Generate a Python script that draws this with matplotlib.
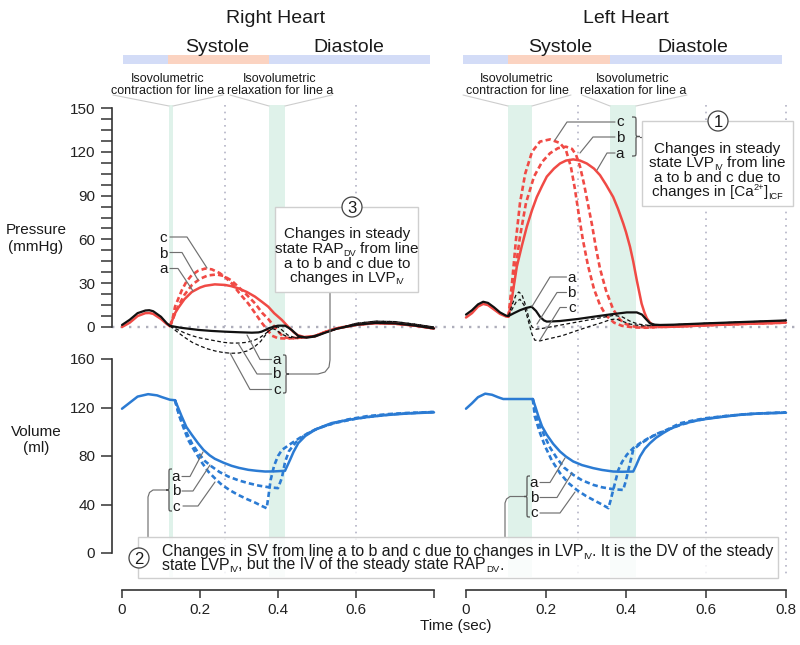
import numpy as np
import matplotlib
matplotlib.use('Agg')
import matplotlib.pyplot as plt
import matplotlib.transforms as mtrans
from matplotlib.patches import Rectangle, Ellipse, PathPatch
from matplotlib.path import Path
from matplotlib.lines import Line2D

plt.rcParams['font.family'] = ['Liberation Sans', 'DejaVu Sans']

# ---------------------------------------------------------------- data
# Right heart (left panel): time (s), pressure (mmHg)
rh_pre_t = [0.0, 0.02, 0.04, 0.06, 0.07, 0.08, 0.10, 0.115, 0.123]
rvp_pre = [0.0, 3.0, 7.5, 9.5, 9.6, 9.0, 5.5, 2.0, 0.5]
rap_pre = [1.4, 5.0, 9.5, 11.3, 11.5, 10.8, 7.0, 2.5, 0.8]

rvp_a_t = [0.123, 0.135, 0.144, 0.16, 0.179, 0.2, 0.213, 0.238, 0.264, 0.28, 0.298, 0.32, 0.341, 0.36, 0.375,
           0.39, 0.41, 0.426, 0.44, 0.45, 0.469, 0.495, 0.52, 0.55, 0.6, 0.65, 0.7, 0.75, 0.8]
rvp_a = [0.5, 9, 13, 19, 24, 27, 28.2, 29.2, 28.8, 28, 26.5, 24, 20.8, 17, 13.9,
         9.5, 4.8, 0.2, -3.5, -5.5, -7, -6.2, -3.5, -1, 1.5, 2.7, 2.3, 1.0, -1.0]
rvp_b_t = [0.123, 0.13, 0.14, 0.16, 0.18, 0.2, 0.22, 0.243, 0.26, 0.28, 0.298, 0.32, 0.341, 0.36, 0.375,
           0.39, 0.40, 0.415, 0.43, 0.45, 0.469, 0.495, 0.52, 0.55, 0.6, 0.65, 0.7, 0.75, 0.8]
rvp_b = [0.5, 5, 12, 22, 29, 33, 35.3, 36, 35, 32, 27.6, 22, 16.2, 9.5, 5.5,
         0.5, -3, -7, -7.7, -7.5, -7, -6.2, -3.5, -1, 1.5, 2.7, 2.3, 1.0, -1.0]
rvp_c_t = [0.123, 0.13, 0.136, 0.153, 0.165, 0.179, 0.195, 0.213, 0.23, 0.25, 0.265, 0.281, 0.3, 0.324, 0.34,
           0.358, 0.37, 0.385, 0.40, 0.42, 0.44, 0.469, 0.495, 0.52, 0.55, 0.6, 0.65, 0.7, 0.75, 0.8]
rvp_c = [0.5, 6, 13.9, 25, 31, 35.6, 38.5, 40, 39.5, 37, 34, 30, 23.5, 16, 10,
         3, -1, -6, -7.7, -7.9, -7.7, -7, -6.2, -3.5, -1, 1.5, 2.7, 2.3, 1.0, -1.0]

rap_a_t = [0.123, 0.15, 0.196, 0.23, 0.264, 0.3, 0.333, 0.35, 0.358, 0.368, 0.376, 0.39, 0.40, 0.418, 0.427,
           0.435, 0.452, 0.473, 0.495, 0.52, 0.55, 0.6, 0.65, 0.7, 0.75, 0.8]
rap_a = [0.8, -0.5, -2, -2.7, -3.2, -3.6, -3.9, -3.7, -3.2, -2, -0.9, 0.3, 0.9, 0.9, -0.5,
         -2, -6.2, -7.3, -6.5, -4, -1.2, 1.5, 2.8, 2.5, 1.0, -1.0]
rap_b_t = [0.123, 0.14, 0.16, 0.18, 0.2, 0.22, 0.24, 0.26, 0.28, 0.30, 0.32, 0.34, 0.355, 0.368, 0.38,
           0.39, 0.40, 0.41, 0.425, 0.44, 0.46, 0.48, 0.5, 0.53, 0.56, 0.6, 0.65, 0.7, 0.75, 0.8]
rap_b = [0.8, -1.5, -4, -6, -7.5, -8.5, -9.5, -10.5, -11, -11, -10.5, -9, -7, -4.5, -2,
         -0.5, 0, -2, -5.5, -7, -7.2, -6.8, -5.5, -3, -0.5, 2.5, 4, 3.7, 2, 0]
rap_c_t = [0.123, 0.14, 0.16, 0.18, 0.2, 0.22, 0.24, 0.26, 0.28, 0.30, 0.32, 0.34, 0.355, 0.365, 0.375,
           0.385, 0.395, 0.41, 0.43, 0.45, 0.47, 0.5, 0.53, 0.56, 0.6, 0.65, 0.7, 0.75, 0.8]
rap_c = [0.8, -3, -7, -10.5, -13, -15, -16.5, -17.5, -18, -17.8, -16.5, -13.5, -10, -6.5, -3,
         -1, -2, -5, -7.2, -7.5, -7.2, -5.5, -3, -0.5, 2.5, 4, 3.7, 2, 0]

# Right heart volume (ml)
rv_pre_t = [0.0, 0.02, 0.04, 0.067, 0.09, 0.102, 0.123, 0.136]
rv_pre = [119, 124, 129, 131, 130, 128.6, 126.4, 126]
rv_a_t = [0.136, 0.145, 0.153, 0.165, 0.179, 0.195, 0.209, 0.225, 0.238, 0.26, 0.281, 0.3, 0.324, 0.345, 0.367,
          0.39, 0.418, 0.431, 0.44, 0.452, 0.47, 0.495, 0.52, 0.538, 0.58, 0.627, 0.68, 0.73, 0.764, 0.8]
rv_a = [126, 119, 112.7, 104, 97.5, 90.5, 85, 80.5, 77.7, 74.5, 71.9, 70.2, 68.6, 67.8, 67.2,
        67.3, 67.8, 76.9, 83.5, 90.6, 96.5, 101.6, 105, 107.2, 109.8, 112, 113.8, 115, 115.5, 116]
rv_b_t = [0.136, 0.145, 0.155, 0.166, 0.18, 0.196, 0.212, 0.23, 0.25, 0.273, 0.3, 0.324, 0.35, 0.375,
          0.40, 0.41, 0.418, 0.428, 0.445, 0.47, 0.5, 0.54, 0.58, 0.627, 0.68, 0.73, 0.8]
rv_b = [126, 115.4, 107, 98.9, 90, 82.4, 76, 71.3, 66.8, 63, 59.8, 57.6, 55.6, 54.3,
        53.5, 62, 75, 84, 91, 97.5, 102.5, 106.8, 110.2, 112.8, 114.5, 115.5, 116.3]
rv_c_t = [0.136, 0.14, 0.148, 0.157, 0.17, 0.187, 0.205, 0.221, 0.24, 0.256, 0.278, 0.298, 0.32, 0.341, 0.357,
          0.371, 0.376, 0.381, 0.39, 0.40, 0.41, 0.435, 0.461, 0.49, 0.52, 0.55, 0.6, 0.65, 0.7, 0.75, 0.8]
rv_c = [126, 121, 112, 104, 93, 83.7, 74.5, 67.2, 61, 56.2, 51.5, 47.9, 44.5, 41.6, 39,
        36.9, 48, 60, 72, 80, 85, 90.6, 96, 101, 104.8, 107.5, 110.8, 113, 114.6, 115.5, 116.3]

# Left heart (right panel): pressure (mmHg)
lh_pre_t = [0.0, 0.015, 0.03, 0.043, 0.055, 0.07, 0.085, 0.1, 0.106]
lap_pre = [8.5, 11.5, 15.5, 17.3, 16.5, 13.5, 10.0, 7.8, 7.5]
lvp_pre = [6.5, 9.5, 14.0, 15.8, 15.0, 12.0, 9.0, 7.2, 7.0]

lvp_a_t = [0.106, 0.115, 0.127, 0.14, 0.152, 0.165, 0.177, 0.19, 0.202, 0.22, 0.235, 0.25, 0.268, 0.285, 0.302,
           0.32, 0.335, 0.35, 0.368, 0.38, 0.393, 0.40, 0.41, 0.418, 0.427, 0.433, 0.439, 0.446, 0.452, 0.46,
           0.468, 0.485, 0.5, 0.55, 0.6, 0.65, 0.7, 0.75, 0.8]
lvp_a = [7, 20, 41.3, 56, 68.7, 80, 89, 96.5, 103, 108.5, 112, 114, 114.8, 114, 112,
         108.5, 104, 97.5, 89, 81, 71, 65, 55, 45, 32, 24, 16, 10, 6, 3,
         1.4, 0.2, 0, 0.6, 1.2, 1.7, 2.2, 2.6, 3.0]
lvp_b_t = [0.106, 0.115, 0.125, 0.135, 0.15, 0.17, 0.19, 0.21, 0.23, 0.25, 0.265, 0.275, 0.285, 0.295, 0.305,
           0.315, 0.325, 0.335, 0.35, 0.368, 0.385, 0.4, 0.42, 0.45, 0.48, 0.5, 0.55, 0.6, 0.65, 0.7, 0.75, 0.8]
lvp_b = [7, 22, 42, 62, 85, 103, 113, 119, 122.5, 123.5, 122, 118, 110, 98, 84,
         70, 54, 40, 25, 12, 5, 2, 0.3, -0.3, 0, 0.2, 0.6, 1.2, 1.7, 2.2, 2.6, 3.0]
lvp_c_t = [0.106, 0.115, 0.125, 0.135, 0.148, 0.165, 0.185, 0.21, 0.235, 0.25, 0.262, 0.272, 0.282, 0.292, 0.305,
           0.32, 0.335, 0.35, 0.37, 0.39, 0.42, 0.45, 0.48, 0.5, 0.55, 0.6, 0.65, 0.7, 0.75, 0.8]
lvp_c = [7, 30, 60, 85, 105, 120, 127, 128.5, 126, 121, 110, 95, 77, 60, 42,
         26, 15, 8, 3, 0.8, -0.3, -0.5, 0, 0.2, 0.6, 1.2, 1.7, 2.2, 2.6, 3.0]

lap_a_t = [0.106, 0.12, 0.135, 0.15, 0.164, 0.175, 0.185, 0.195, 0.202, 0.22, 0.235, 0.28, 0.318, 0.36, 0.402,
           0.427, 0.44, 0.448, 0.46, 0.472, 0.485, 0.52, 0.6, 0.7, 0.8]
lap_a = [7.5, 9.5, 11.5, 13, 13.9, 11, 7, 4.5, 3.7, 3.9, 4.1, 5.5, 7, 8.6, 10,
         10, 8.5, 6, 2.5, 1.6, 1.4, 1.6, 2.5, 3.5, 4.5]
lap_b_t = [0.106, 0.115, 0.125, 0.132, 0.14, 0.15, 0.158, 0.165, 0.175, 0.19, 0.22, 0.26, 0.3, 0.34, 0.37,
           0.39, 0.41, 0.43, 0.46, 0.5, 0.6, 0.7, 0.8]
lap_b = [7.5, 15, 22, 24, 22, 14, 5, 0, -1.5, -1, 0.5, 2.5, 4.5, 6.5, 8,
         7, 4, 2, 1, 1.4, 2.5, 3.5, 4.5]
lap_c_t = [0.106, 0.115, 0.125, 0.135, 0.145, 0.155, 0.165, 0.172, 0.185, 0.2, 0.24, 0.277, 0.31, 0.34, 0.36,
           0.375, 0.39, 0.41, 0.44, 0.5, 0.6, 0.7, 0.8]
lap_c = [7.5, 12, 17, 19, 15, 5, -5, -9, -9.5, -8.5, -6, -2.5, 0.5, 3, 5,
         5.5, 4, 2, 0.8, 1.4, 2.5, 3.5, 4.5]

# Left heart volume (ml)
lv_pre_t = [0.0, 0.015, 0.03, 0.048, 0.065, 0.08, 0.093, 0.105, 0.167]
lv_pre = [119, 123.5, 128.5, 131.4, 130.5, 128.5, 127, 127, 127]
lv_a_t = [0.167, 0.174, 0.181, 0.19, 0.202, 0.218, 0.235, 0.25, 0.268, 0.29, 0.318, 0.34, 0.368, 0.39, 0.418,
          0.425, 0.435, 0.447, 0.46, 0.475, 0.493, 0.51, 0.535, 0.57, 0.6, 0.635, 0.68, 0.73, 0.8]
lv_a = [127, 120, 112.7, 104.5, 97.5, 90, 83.7, 79.5, 75.5, 72.5, 70, 68.5, 67.2, 67, 67.2,
        72, 79.6, 86, 90.6, 95, 98.9, 102.2, 105.8, 108.8, 110.5, 112, 113.8, 115, 115.7]
lv_b_t = [0.167, 0.172, 0.182, 0.193, 0.21, 0.227, 0.245, 0.268, 0.29, 0.318, 0.34, 0.368, 0.393, 0.4,
          0.406, 0.418, 0.435, 0.452, 0.475, 0.502, 0.535, 0.57, 0.6, 0.65, 0.7, 0.75, 0.8]
lv_b = [127, 118, 107, 98.9, 87, 78.3, 70.5, 64.5, 60, 56.2, 54.2, 52.6, 52, 60,
        68.6, 85, 90, 93.4, 98, 101.6, 107, 109.5, 111.2, 113, 114.5, 115.3, 115.8]
lv_c_t = [0.167, 0.172, 0.185, 0.198, 0.215, 0.235, 0.255, 0.277, 0.3, 0.318, 0.34, 0.356, 0.362, 0.368, 0.375,
          0.381, 0.39, 0.402, 0.418, 0.435, 0.46, 0.485, 0.51, 0.54, 0.57, 0.6, 0.65, 0.7, 0.75, 0.8]
lv_c = [127, 112.7, 99, 87.8, 76, 65.9, 58, 52, 47, 43.8, 40, 37, 44, 52, 61,
        68.6, 75, 81, 86.5, 90.6, 95.5, 99, 102.5, 106, 108.8, 110.8, 113, 114.5, 115.4, 116]

# phases, isovolumetric bands, guide lines (s)
rh_phase_edges = [0.003, 0.118, 0.377, 0.79]
lh_phase_edges = [-0.008, 0.105, 0.36, 0.79]
rh_iso_bands = [(0.12, 0.13), (0.378, 0.418)]
lh_iso_bands = [(0.105, 0.165), (0.36, 0.425)]
rh_guides = [0.265, 0.6]
lh_guides = [0.28, 0.6, 0.8]

pressure_ticks = [0, 30, 60, 90, 120, 150]
volume_ticks = [0, 40, 80, 120, 160]
time_ticks = [0, 0.2, 0.4, 0.6, 0.8]
rh_time_labels = ['0', '0.2', '0.4', '0.6', '']
lh_time_labels = ['0', '0.2', '0.4', '0.6', '0.8']

# ---------------------------------------------------------------- style
RED = '#f04a45'
BLUE = '#2b7bd3'
BLACK = '#111111'
BAR_BLUE = '#d3dcf7'
BAR_ORANGE = '#fbd3c1'
BAND = '#dff2ea'
GRID = '#b4b4c6'
LEAD = '#707070'
AXC = '#333333'
TXT = '#1a1a1a'
DASH = (0, (2.0, 1.2))
BDASH = (0, (3.0, 2.0))

W, H = 800, 645
fig = plt.figure(figsize=(W / 100, H / 100), dpi=100)
renderer = fig.canvas.get_renderer()


def fx(px):
    return px / W


def fy(py):
    return 1.0 - py / H


P0_PX, P_SCALE = 327.0, 219.0 / 150.0
V0_PX, V_SCALE = 553.0, 194.0 / 160.0
XAX_PX = 590.0
P_LIM = (-25, 155)
V_LIM = (-(XAX_PX - V0_PX) / V_SCALE, 165)


def make_ax(x0, x1, zero_px, scale, ylim):
    top = zero_px - ylim[1] * scale
    bot = zero_px - ylim[0] * scale
    ax = fig.add_axes([fx(x0), fy(bot), (x1 - x0) / W, (bot - top) / H])
    ax.set_xlim(0, 0.8)
    ax.set_ylim(*ylim)
    ax.set_autoscale_on(False)
    ax.patch.set_visible(False)
    for s in ax.spines.values():
        s.set_visible(False)
    ax.set_xticks([])
    ax.set_yticks([])
    return ax


L_X0, L_X1 = 122, 434
R_X0, R_X1 = 466, 786
axPL = make_ax(L_X0, L_X1, P0_PX, P_SCALE, P_LIM)
axPR = make_ax(R_X0, R_X1, P0_PX, P_SCALE, P_LIM)
axVL = make_ax(L_X0, L_X1, V0_PX, V_SCALE, V_LIM)
axVR = make_ax(R_X0, R_X1, V0_PX, V_SCALE, V_LIM)

# y axes
for ax, ticks, minor in [(axPL, pressure_ticks, np.arange(0, 151, 7.5)), (axVL, volume_ticks, None)]:
    sp = ax.spines['left']
    sp.set_visible(True)
    sp.set_bounds(ticks[0], ticks[-1])
    sp.set_position(('outward', 7.2))
    sp.set_color(AXC)
    sp.set_linewidth(1.2)
    ax.set_yticks(ticks)
    ax.set_yticklabels([str(v) for v in ticks])
    if minor is not None:
        ax.set_yticks(minor, minor=True)
    ax.tick_params(axis='y', which='both', direction='out', length=8, width=1.1, color=AXC,
                   labelsize=11, pad=4, labelcolor='#222222')

# time axes
for ax, labels in [(axVL, rh_time_labels), (axVR, lh_time_labels)]:
    sp = ax.spines['bottom']
    sp.set_visible(True)
    sp.set_bounds(0, 0.8)
    sp.set_color(AXC)
    sp.set_linewidth(1.2)
    ax.set_xticks(time_ticks)
    ax.set_xticklabels(labels)
    ax.tick_params(axis='x', direction='out', length=6, width=1.1, color=AXC,
                   labelsize=11, pad=3, labelcolor='#222222')

# header bars, bands and guide lines
for ax, edges, bands, guides in [(axPL, rh_phase_edges, rh_iso_bands, rh_guides),
                                 (axPR, lh_phase_edges, lh_iso_bands, lh_guides)]:
    tr = mtrans.blended_transform_factory(ax.transData, fig.transFigure)
    cols = [BAR_BLUE, BAR_ORANGE, BAR_BLUE]
    for a, b, c in zip(edges[:-1], edges[1:], cols):
        ax.add_patch(Rectangle((a, fy(64)), b - a, fy(55) - fy(64), transform=tr,
                               facecolor=c, edgecolor='none', clip_on=False))
    for a, b in bands:
        ax.add_patch(Rectangle((a, fy(577)), b - a, fy(105) - fy(577), transform=tr,
                               facecolor=BAND, edgecolor='none', clip_on=False, zorder=0.5))
    for g in guides:
        ax.plot([g, g], [fy(105), fy(575)], transform=tr, color=GRID, lw=1.2,
                ls=(0, (1, 3)), clip_on=False, zorder=0.8)

# zero pressure guide
trz = mtrans.blended_transform_factory(fig.transFigure, axPL.transData)
axPL.plot([fx(112), fx(797)], [0, 0], transform=trz, color='#aeaebb', lw=1.7,
          ls=(0, (1, 2.6)), clip_on=False, zorder=0.9)


# ---------------------------------------------------------------- curves
def curve(ax, t, v, color, lw, ls='-', z=2):
    ax.plot(t, v, color=color, lw=lw, ls=ls, clip_on=False, zorder=z,
            solid_capstyle='round', solid_joinstyle='round', dash_capstyle='butt')


curve(axPL, rh_pre_t, rvp_pre, RED, 1.8)
curve(axPL, rvp_a_t, rvp_a, RED, 1.8)
curve(axPL, rvp_b_t, rvp_b, RED, 1.9, DASH, 2.1)
curve(axPL, rvp_c_t, rvp_c, RED, 1.9, DASH, 2.1)
curve(axPL, rap_b_t, rap_b, BLACK, 0.9, BDASH, 2.2)
curve(axPL, rap_c_t, rap_c, BLACK, 0.9, BDASH, 2.2)
curve(axPL, rh_pre_t, rap_pre, BLACK, 1.6, z=2.3)
curve(axPL, rap_a_t, rap_a, BLACK, 1.6, z=2.3)

curve(axPR, lh_pre_t, lvp_pre, RED, 1.8)
curve(axPR, lvp_a_t, lvp_a, RED, 1.8)
curve(axPR, lvp_b_t, lvp_b, RED, 1.9, DASH, 2.1)
curve(axPR, lvp_c_t, lvp_c, RED, 1.9, DASH, 2.1)
curve(axPR, lap_b_t, lap_b, BLACK, 0.9, BDASH, 2.2)
curve(axPR, lap_c_t, lap_c, BLACK, 0.9, BDASH, 2.2)
curve(axPR, lh_pre_t, lap_pre, BLACK, 1.6, z=2.3)
curve(axPR, lap_a_t, lap_a, BLACK, 1.6, z=2.3)

curve(axVL, rv_pre_t, rv_pre, BLUE, 1.8)
curve(axVL, rv_a_t, rv_a, BLUE, 1.8)
curve(axVL, rv_b_t, rv_b, BLUE, 1.9, DASH)
curve(axVL, rv_c_t, rv_c, BLUE, 1.9, DASH)
curve(axVR, lv_pre_t, lv_pre, BLUE, 1.8)
curve(axVR, lv_a_t, lv_a, BLUE, 1.8)
curve(axVR, lv_b_t, lv_b, BLUE, 1.9, DASH)
curve(axVR, lv_c_t, lv_c, BLUE, 1.9, DASH)


# ---------------------------------------------------------------- annotations
def ftext(x, y, s, size=11, ha='center', z=6):
    fig.text(fx(x), fy(y), s, ha=ha, va='baseline', fontsize=size, zorder=z, color=TXT)


def _tw(s, size):
    t = fig.text(0, 0, s, fontsize=size)
    w = t.get_window_extent(renderer).width
    t.remove()
    return w


def _seg_w(s, size):
    return _tw('x' + s + 'x', size) - _tw('xx', size)


def rich(x, y, segs, size=11, ha='center', z=6):
    """segs: list of (text, kind) with kind in 'n', 'sub', 'sup'; y is baseline px."""
    small = size * 0.6
    specs = []
    total = 0.0
    for s, kind in segs:
        fs = size if kind == 'n' else small
        w = _seg_w(s, fs)
        specs.append((s, kind, fs, total))
        total += w
    x0 = x - total / 2.0 if ha == 'center' else x
    for s, kind, fs, off in specs:
        core = s.lstrip(' ')
        lead = len(s) - len(core)
        lead_w = _seg_w(s[:lead], fs) if lead else 0.0
        dy = 2.8 if kind == 'sub' else (-5.5 if kind == 'sup' else 0.0)
        fig.text(fx(x0 + off + lead_w), fy(y + dy), core.rstrip(' '), ha='left', va='baseline',
                 fontsize=fs, zorder=z, color=TXT)


def poly(pts, color=LEAD, lw=0.85, z=3):
    fig.add_artist(Line2D([fx(p[0]) for p in pts], [fy(p[1]) for p in pts], transform=fig.transFigure,
                          color=color, lw=lw, zorder=z, solid_joinstyle='round', solid_capstyle='round'))


def box(x0, y0, x1, y1, face=(1, 1, 1, 1)):
    fig.add_artist(Rectangle((fx(x0), fy(y1)), (x1 - x0) / W, (y1 - y0) / H, transform=fig.transFigure,
                             facecolor=face, edgecolor='#cfcfcf', lw=1.0, zorder=4))


def circ(x, y, s, r=10):
    fig.add_artist(Ellipse((fx(x), fy(y)), 2 * r / W, 2 * r / H, transform=fig.transFigure,
                           facecolor='white', edgecolor='#444444', lw=0.9, zorder=6))
    ftext(x, y + 6, s, size=12, z=7)


def brace(x_end, x_tip, y0, y1, color='#555555', lw=0.9):
    xm = (x_end + x_tip) / 2.0
    ym = (y0 + y1) / 2.0
    r = 3.5
    pts = [(x_end, y0), (xm, y0), (xm, y0), (xm, y0 + r),
           (xm, ym - r),
           (xm, ym), (xm, ym), (x_tip, ym),
           (xm, ym), (xm, ym), (xm, ym + r),
           (xm, y1 - r),
           (xm, y1), (xm, y1), (x_end, y1)]
    codes = [Path.MOVETO, Path.CURVE4, Path.CURVE4, Path.CURVE4, Path.LINETO,
             Path.CURVE4, Path.CURVE4, Path.CURVE4,
             Path.CURVE4, Path.CURVE4, Path.CURVE4, Path.LINETO,
             Path.CURVE4, Path.CURVE4, Path.CURVE4]
    path = Path([(fx(a), fy(b)) for a, b in pts], codes)
    fig.add_artist(PathPatch(path, transform=fig.transFigure, facecolor='none',
                             edgecolor=color, lw=lw, zorder=5))


# titles
ftext(276, 23.3, 'Right Heart', size=14)
ftext(626, 23.3, 'Left Heart', size=14)
ftext(217.5, 51.5, 'Systole', size=14)
ftext(349, 51.5, 'Diastole', size=14)
ftext(560, 51.5, 'Systole', size=14)
ftext(692.5, 51.5, 'Diastole', size=14)

# isovolumetric labels with funnels
for cx, l2 in [(168, 'contraction for line a'), (280, 'relaxation for line a'),
               (517, 'contraction for line'), (633, 'relaxation for line a')]:
    ftext(cx, 82.5, 'Isovolumetric', size=9)
    ftext(cx, 93.5, l2, size=9)
for seg in [[(113, 95), (169, 106)], [(223, 95), (173, 106)], [(230, 95), (269, 106)], [(332, 95), (285, 106)],
            [(463, 95), (508, 106)], [(571, 95), (532, 106)], [(582, 95), (610, 106)], [(687, 95), (636, 106)]]:
    poly(seg, color='#cdcdcd', lw=0.8, z=1)

# axis titles
ftext(36, 234, 'Pressure')
ftext(36, 251, '(mmHg)')
ftext(36, 436, 'Volume')
ftext(36, 452, '(ml)')
ftext(456, 630, 'Time (sec)')

# box 1 (left heart)
box(642, 121, 793, 206)
circ(718, 121, '1')
rich(717.5, 152.5, [('Changes in steady', 'n')])
rich(717.5, 167, [('state LVP', 'n'), ('IV', 'sub'), (' from line', 'n')])
rich(717.5, 182, [('a to b and c due to', 'n')])
rich(717.5, 196, [('changes in [Ca', 'n'), ('2+', 'sup'), (']', 'n'), ('ICF', 'sub')])
brace(632, 640, 117, 156)
poly([(640, 136.5), (642, 136.5)], color='#555555', lw=0.9)
for yb, s in [(126.5, 'c'), (141.5, 'b'), (157.5, 'a')]:
    ftext(620, yb, s)
poly([(615, 122), (567, 122), (555, 140)])
poly([(615, 137), (593, 137), (580, 153)])
poly([(615, 153), (607, 153), (597, 170)])

# left-heart pressure black labels
for yb, s in [(281.7, 'a'), (296.7, 'b'), (311.7, 'c')]:
    ftext(571.7, yb, s)
poly([(566.5, 277), (550, 277), (532, 306.5)])
poly([(566.5, 292.5), (557, 292.5), (537, 324)])
poly([(566.5, 307.5), (560, 307.5), (540, 340)])

# right-heart red labels
for yb, s in [(241.5, 'c'), (257.5, 'b'), (273.3, 'a')]:
    ftext(163.3, yb, s)
poly([(170, 237), (187, 237), (207, 268)])
poly([(170, 252.5), (182, 252.5), (198, 280)])
poly([(170, 268.5), (178, 268.5), (193, 291)])

# box 3 (right heart)
box(275, 207, 418, 292)
circ(352, 207, '3')
rich(347, 238.3, [('Changes in steady', 'n')])
rich(347, 253.0, [('state RAP', 'n'), ('DV', 'sub'), (' from line', 'n')])
rich(347, 267.8, [('a to b and c due to', 'n')])
rich(347, 281.7, [('changes in LVP', 'n'), ('IV', 'sub')])
for yb, s in [(364, 'a'), (378.3, 'b'), (394, 'c')]:
    ftext(276.7, yb, s)
poly([(271.5, 359.5), (260, 359.5), (247, 335)])
poly([(271.5, 374), (257, 374), (238, 343)])
poly([(271.5, 389.5), (250, 389.5), (230, 353)])
brace(283, 289, 355, 393)
poly([(289, 374), (318, 374), (325, 372), (329, 367), (330, 360), (330, 292)])

# volume labels
for yb, s in [(480.7, 'a'), (495, 'b'), (510.7, 'c')]:
    ftext(176, yb, s)
poly([(182, 476.5), (190, 476.5), (203, 452)])
poly([(182, 491), (193, 491), (210, 465)])
poly([(183, 506), (198, 506), (215, 482)])
brace(172, 166, 469, 511)
poly([(166, 490), (153, 490), (149.5, 492.5), (148, 497), (148, 537)])

for yb, s in [(486.7, 'a'), (501.7, 'b'), (517.3, 'c')]:
    ftext(534, yb, s)
poly([(540, 482.5), (550, 482.5), (565, 458)])
poly([(540, 497.5), (557, 497.5), (572, 473)])
poly([(540, 513), (560, 513), (575, 492)])
brace(530, 524, 476, 517)
poly([(524, 496.5), (510, 496.5), (506.5, 499), (505, 503), (505, 537)])

# box 2
box(138, 537, 778, 578, face=(1, 1, 1, 0.82))
circ(139, 558, '2')
rich(162, 556, [('Changes in SV from line a to b and c due to changes in LVP', 'n'), ('IV', 'sub'),
                ('. It is the DV of the steady', 'n')], size=11.4, ha='left')
rich(162, 569.5, [('state LVP', 'n'), ('IV', 'sub'), (', but the IV of the steady state RAP', 'n'),
                  ('DV', 'sub'), ('.', 'n')], size=11.4, ha='left')

fig.savefig('out.png', dpi=100)
